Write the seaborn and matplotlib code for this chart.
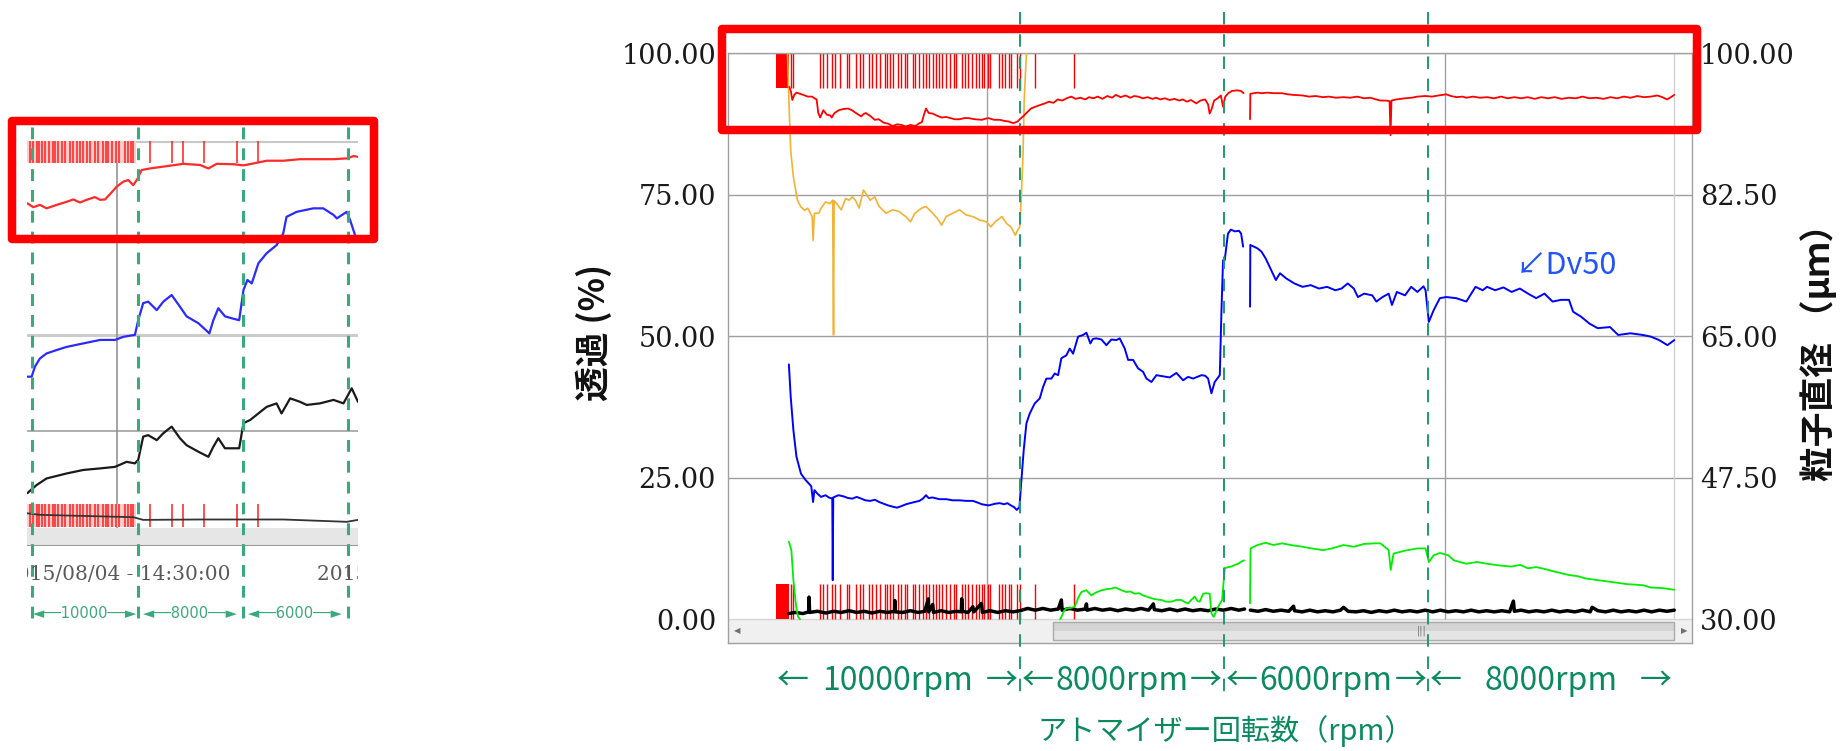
import numpy as np
import pandas as pd
import matplotlib
matplotlib.use("Agg")
import matplotlib.pyplot as plt
import matplotlib.transforms as mtransforms
from matplotlib.patches import Rectangle
import seaborn as sns

nan = np.nan

# ======================= DATA : main chart =======================
# time axis in arbitrary units (0 = left frame of chart)
red_t = [6.4, 6.55, 6.7, 6.9, 7.13, 7.5, 7.84, 8.3, 8.76, 9.0, 9.23, 9.4, 9.6, 9.93, 10.3, 10.62, 10.8,
         11.09, 11.55, 12.0, 12.49, 12.9, 13.41, 13.88, 14.1, 14.35, 14.8, 15.28, 15.7, 16.21, 16.7,
         17.14, 17.6, 18.07, 18.5, 19.0, 19.5, 19.93, 20.2, 20.39, 20.62, 20.9, 21.32, 21.8, 22.25,
         22.7, 23.18, 23.6, 24.11, 24.6, 25.04, 25.7, 26.44, 26.8, 27.14, 27.7, 28.3, 28.8, 29.23,
         29.7, 30.16, 30.39, 30.85, 31.2, 31.55, 32.0, 32.48, 33.0, 33.41, 33.9, 34.34, 34.8, 35.27,
         35.74, 36.2, 36.7, 37.2, 37.6, 38.06, 38.5, 39.0, 39.5, 40.0, 40.39, 40.9, 41.4, 41.9, 42.3,
         42.71, 43.2, 43.7, 44.2, 44.6, 45.04, 45.5, 46.0, 46.5, 47.0, 47.36, 47.8, 48.2, 48.78, 49.2,
         49.7, 50.0, 50.16, 50.35, 50.63, 51.0, 51.33, 51.56, 51.79, 52.1, 52.49, 53.0, 53.42, 53.7,
         nan,
         54.37, 54.40, 55.14, 55.6, 56.2, 56.8, 57.7, 58.3, 58.9, 59.84, 60.5, 61.2, 61.97, 62.6, 63.3,
         64.1, 64.8, 65.5, 66.25, 66.9, 67.5, 67.95, 68.5, 68.9, 69.0, 69.1, 69.6, 70.5, 71.2, 71.8,
         72.65, 73.3, 74.0, 74.8, 75.3, 75.9, 76.5, 76.9, 77.6, 78.3, 79.05, 79.8, 80.5, 81.2, 81.9,
         82.6, 83.3, 84.0, 84.7, 85.4, 86.1, 86.8, 87.6, 88.3, 89.0, 89.7, 90.4, 91.2, 91.9, 92.6,
         93.3, 94.0, 94.7, 95.4, 96.1, 96.8, 97.3, 97.8, 98.2, 98.55]
red_v = [94.0, 93.2, 91.7, 92.6, 93.0, 92.8, 92.6, 92.3, 92.3, 92.0, 91.8, 89.4, 88.6, 89.9, 89.1, 89.0, 88.6,
         89.4, 89.9, 90.1, 90.2, 89.9, 89.3, 88.8, 89.2, 89.4, 88.9, 88.2, 88.3, 87.7, 87.5,
         87.1, 87.4, 87.3, 87.0, 87.3, 87.1, 87.6, 87.8, 89.0, 90.2, 89.4, 89.3, 88.9, 88.6,
         88.7, 88.5, 88.3, 88.3, 88.5, 88.5, 88.3, 88.2, 88.4, 88.5, 88.2, 88.2, 88.0, 87.9,
         87.6, 87.9, 88.3, 89.0, 89.6, 90.2, 90.5, 90.8, 91.1, 91.4, 91.2, 91.8, 91.6, 92.0,
         92.3, 91.9, 92.1, 91.8, 92.2, 92.0, 92.3, 91.9, 92.4, 92.1, 92.6, 92.2, 92.5, 92.1, 92.4,
         92.3, 92.0, 92.2, 91.9, 92.1, 91.8, 92.0, 91.7, 91.9, 91.6, 91.8, 91.4, 91.7, 91.1, 91.6,
         91.8, 90.9, 89.3, 90.0, 91.6, 92.0, 92.5, 90.5, 92.3, 92.9, 93.3, 93.4, 93.3, 92.9,
         nan,
         88.3, 92.8, 93.0, 92.9, 93.0, 92.9, 92.9, 92.7, 92.6, 92.5, 92.3, 92.4, 92.2, 92.3, 92.1,
         92.2, 92.1, 92.3, 92.0, 92.1, 91.8, 91.6, 91.6, 91.5, 85.5, 91.6, 91.8, 92.0, 92.1, 92.3,
         92.4, 92.3, 92.5, 92.7, 92.4, 92.2, 92.3, 92.1, 92.3, 92.1, 92.2, 92.0, 92.3, 92.0, 92.2,
         92.0, 92.2, 91.9, 92.2, 92.0, 92.2, 91.9, 92.1, 92.0, 92.3, 92.0, 92.1, 91.9, 92.2, 92.0,
         92.3, 92.1, 92.4, 92.2, 92.3, 92.5, 92.2, 91.8, 92.2, 92.6]

orange_t = [6.2, 6.34, 6.53, 6.81, 7.23, 7.6, 8.0, 8.3, 8.76, 8.86, 9.0, 9.46, 9.69, 10.16, 10.62, 10.9,
            10.99, 11.05, 11.32, 11.79, 12.25, 12.6, 12.95, 13.3, 13.65, 14.11, 14.35, 14.81, 15.28,
            15.74, 16.1, 16.44, 17.14, 17.83, 18.2, 18.53, 19.0, 19.46, 20.16, 20.62, 21.32, 21.79,
            22.25, 22.72, 23.41, 24.11, 24.81, 25.51, 26.21, 26.91, 27.37, 27.83, 28.53, 29.0, 29.46,
            29.93, 30.16, 30.39, 30.53, 30.72, 30.85, 31.08]
orange_v = [100.0, 91.7, 82.8, 78.1, 74.0, 72.8, 72.2, 72.6, 71.1, 66.9, 71.7, 71.7, 72.6, 73.7, 73.4, 74.0,
            50.2, 73.9, 73.4, 72.3, 74.3, 74.0, 74.6, 73.9, 72.6, 75.8, 75.2, 74.0, 74.6,
            72.9, 72.3, 71.7, 72.3, 72.0, 71.5, 71.1, 70.2, 71.7, 72.6, 72.9, 71.7, 70.8,
            69.6, 71.1, 71.7, 72.3, 71.4, 71.1, 70.5, 70.2, 69.3, 70.2, 71.1, 69.9, 69.3,
            67.8, 68.7, 69.3, 74.0, 81.7, 91.7, 100.0]

blue_t = [6.34, 6.53, 6.81, 7.13, 7.6, 8.07, 8.67, 8.86, 9.0, 9.3, 9.69, 10.16, 10.5, 10.86, 10.91, 10.96,
          11.09, 11.5, 12.02, 12.5, 12.95, 13.4, 13.88, 14.3, 14.81, 15.3, 15.74, 16.2, 16.67, 17.1,
          17.6, 18.1, 18.53, 19.2, 19.93, 20.3, 20.62, 20.9, 21.32, 22.0, 22.72, 23.4, 24.11, 24.8,
          25.51, 26.0, 26.44, 27.14, 27.83, 28.3, 28.76, 29.1, 29.46, 29.8, 30.07, 30.35, 30.56, 30.8,
          31.08, 31.42, 31.94, 32.47, 32.81, 33.16, 33.68, 34.03, 34.38, 34.72, 35.24, 35.59, 35.94,
          36.46, 36.98, 37.33, 37.74, 38.0, 38.37, 38.89, 39.41, 39.93, 40.45, 40.8, 41.32, 41.67,
          42.19, 42.71, 43.23, 43.58, 44.1, 44.62, 45.31, 46.0, 46.7, 47.4, 47.92, 48.44, 49.31,
          49.7, 50.0, 50.35, 50.69, 51.22, 51.39, 51.56, 51.73, 52.07, 52.37, 52.8, 53.22, 53.44, 53.65,
          nan,
          54.37, 54.40, 55.14, 55.57, 56.0, 56.42, 57.06, 57.49, 58.13, 58.99, 59.84, 60.69, 61.55,
          62.40, 63.25, 63.9, 64.54, 65.18, 65.6, 66.25, 67.1, 67.53, 68.17, 68.81, 69.15, 69.66,
          70.51, 71.15, 71.8, 72.44, 72.65, 72.99, 73.5, 74.14, 74.8, 75.85, 76.9, 77.85, 78.6,
          79.05, 79.9, 80.76, 81.61, 82.47, 83.32, 84.17, 85.03, 85.88, 86.74, 87.59, 88.02, 88.87,
          89.73, 90.58, 91.86, 92.71, 93.99, 95.27, 96.13, 96.98, 97.84, 98.56]
blue_v = [45.0, 39.3, 33.4, 28.7, 25.7, 24.6, 23.5, 20.7, 22.8, 22.2, 21.6, 21.9, 21.5, 21.3, 6.9, 21.5,
          21.6, 21.9, 21.7, 21.4, 21.3, 21.6, 21.3, 21.0, 20.9, 21.1, 20.7, 20.4, 20.1, 19.9,
          19.7, 20.0, 20.3, 20.6, 20.9, 21.3, 21.9, 21.4, 21.5, 21.2, 21.2, 21.0, 21.0, 20.9,
          20.9, 20.6, 20.3, 20.1, 20.4, 20.5, 20.3, 20.5, 20.1, 19.8, 19.3, 19.8, 24.6, 29.9,
          34.6, 36.3, 38.1, 39.0, 41.0, 42.5, 42.5, 43.4, 43.1, 46.1, 46.6, 47.8, 46.9,
          49.9, 50.2, 50.6, 48.7, 49.5, 49.6, 49.4, 48.4, 49.4, 49.3, 49.6, 47.8, 45.8,
          45.8, 44.3, 43.7, 42.5, 41.9, 43.1, 42.9, 42.7, 43.5, 42.2, 42.8, 42.5, 43.1,
          43.0, 42.5, 39.9, 41.9, 43.1, 54.3, 63.4, 63.4, 68.1, 68.8, 68.5, 68.6, 68.1, 65.8,
          nan,
          55.2, 66.1, 65.5, 64.9, 63.7, 62.2, 59.9, 61.1, 60.2, 59.3, 58.7, 59.0, 58.4,
          58.7, 58.1, 58.4, 59.3, 58.4, 56.9, 57.5, 57.2, 56.1, 56.9, 57.5, 55.5, 57.8,
          57.2, 58.7, 57.8, 58.8, 58.1, 52.5, 54.6, 56.7, 56.9, 56.7, 56.1, 58.7, 58.1,
          58.7, 58.1, 58.6, 57.8, 58.4, 57.5, 56.7, 57.5, 56.1, 56.4, 56.4, 54.3, 53.4,
          52.2, 51.4, 51.6, 50.2, 50.5, 50.2, 49.9, 49.3, 48.4, 49.3]

green_t = [6.34, 6.6, 6.81, 7.1, 7.3, 7.5,
           nan,
           34.6, 34.72, 35.0, 35.24, 35.7, 36.11, 36.5, 36.81, 37.1, 37.33, 37.85, 38.3, 38.89, 39.4,
           39.93, 40.3, 40.63, 41.0, 41.49, 41.9, 42.36, 42.8, 43.23, 43.6, 44.1, 44.6, 45.14, 45.6,
           46.18, 46.7, 47.22, 47.6, 47.92, 48.3, 48.61, 48.9, 49.13, 49.48, 49.8, 50.17, 50.35,
           50.59, 51.04, 51.46, 51.74, 52.1, 52.43, 52.8, 53.13, 53.5, 53.75,
           nan,
           54.37, 54.42, 55.14, 56.0, 56.8, 57.7, 58.6, 59.84, 60.8, 61.97, 62.9, 64.1, 65.2, 66.25,
           67.4, 67.95, 68.81, 69.02, 69.32, 70.5, 71.8, 72.65, 72.99, 73.5, 74.14, 75.0, 75.6, 76.9,
           78.0, 79.05, 80.3, 81.6, 82.5, 83.3, 84.2, 85.0, 86.1, 87.6, 88.5, 89.3, 90.6, 91.9, 92.8,
           93.6, 94.5, 95.3, 96.1, 97.3, 98.56]
green_v = [13.7, 12.2, 6.9, 2.2, 0.4, 0.0,
           nan,
           0.0, 0.4, 1.5, 1.9, 2.0, 2.2, 3.9, 4.8, 5.0, 5.1, 4.2, 4.7, 5.1, 5.3,
           5.4, 5.6, 5.4, 5.1, 4.8, 4.9, 4.5, 4.6, 4.2, 4.0, 3.7, 3.5, 3.4, 3.1,
           3.1, 3.4, 3.4, 3.0, 2.8, 3.5, 4.0, 3.2, 3.1, 4.5, 4.6, 4.5, 1.0,
           0.4, 2.2, 3.4, 9.0, 9.2, 9.3, 9.6, 9.8, 10.2, 10.4,
           nan,
           2.8, 12.5, 13.1, 13.5, 13.1, 13.4, 13.1, 12.8, 12.5, 12.2, 12.5, 13.1, 12.8, 13.3,
           13.4, 13.4, 12.2, 8.7, 11.6, 12.1, 12.5, 12.5, 10.1, 11.3, 11.7, 11.3, 10.4, 9.8,
           10.1, 9.8, 9.5, 9.3, 9.6, 9.0, 9.2, 8.9, 8.4, 7.8, 7.6, 7.2, 6.9, 6.6, 6.4,
           6.2, 6.1, 6.0, 5.6, 5.5, 5.2]

black_t = [6.3, 7.0, 7.8, 8.4, 8.44, 8.5, 9.3, 10.2, 11.0, 11.8, 12.6, 13.4, 14.2, 15.0, 15.8, 16.6,
           17.35, 17.37, 17.4, 18.2, 19.0, 19.8, 20.5, 20.86, 20.9, 21.32, 21.4, 22.2, 23.0, 23.8,
           24.3, 24.34, 24.4, 25.0, 25.5, 25.6, 26.4, 26.5, 27.3, 28.1, 28.9, 29.7, 30.4, 31.2,
           32.0, 32.8, 33.6, 34.4, 34.72, 34.8, 35.6, 36.4, 37.2, 37.33, 37.4, 38.2, 39.0, 39.8,
           40.6, 41.4, 42.2, 43.0, 43.8, 44.3, 44.4, 45.2, 46.0, 46.8, 47.6, 48.4, 49.2, 50.0,
           50.8, 51.6, 52.4, 53.2, 53.8,
           nan,
           54.4, 55.2, 56.0, 56.8, 57.6, 58.4, 58.9, 59.0, 59.8, 60.6, 61.4, 62.2, 63.0, 63.8, 64.1,
           64.6, 65.4, 66.2, 67.0, 67.8, 68.6, 69.4, 70.2, 71.0, 71.8, 72.6, 73.4, 74.2, 75.0, 75.8,
           76.6, 77.4, 78.2, 79.0, 79.8, 80.6, 81.4, 81.8, 81.9, 82.6, 83.4, 84.2, 85.0, 85.8, 86.6,
           87.4, 88.2, 89.0, 89.8, 90.0, 90.6, 91.4, 92.2, 93.0, 93.8, 94.6, 95.4, 96.2, 97.0, 97.8,
           98.55]
black_v = [1.0, 1.2, 1.0, 1.3, 3.9, 1.2, 1.4, 1.1, 1.4, 1.2, 1.5, 1.2, 1.4, 1.1, 1.4, 1.2,
           1.4, 3.3, 1.3, 1.2, 1.5, 1.2, 1.4, 3.6, 1.3, 2.6, 1.2, 1.5, 1.2, 1.4,
           1.3, 3.6, 1.4, 1.2, 2.2, 1.3, 2.8, 1.2, 1.5, 1.2, 1.5, 1.3, 1.5, 1.9,
           1.6, 1.9, 1.6, 1.8, 3.4, 1.6, 1.9, 1.6, 1.8, 2.7, 1.6, 1.9, 1.6, 1.8,
           1.5, 1.8, 1.6, 1.9, 1.6, 2.7, 1.7, 1.5, 1.8, 1.5, 1.8, 1.5, 1.7, 1.5,
           1.8, 1.6, 1.9, 1.6, 1.8,
           nan,
           1.6, 1.4, 1.7, 1.4, 1.6, 1.4, 2.3, 1.5, 1.3, 1.6, 1.3, 1.5, 1.3, 1.6, 2.1,
           1.4, 1.3, 1.5, 1.2, 1.5, 1.3, 1.6, 1.3, 1.5, 1.3, 1.6, 1.3, 1.6, 1.3, 1.5,
           1.3, 1.6, 1.3, 1.5, 1.3, 1.5, 1.3, 3.2, 1.4, 1.6, 1.3, 1.5, 1.3, 1.6, 1.3,
           1.5, 1.3, 1.6, 1.3, 2.1, 1.5, 1.3, 1.6, 1.3, 1.5, 1.3, 1.6, 1.3, 1.6, 1.4,
           1.6]

# alarm / event markers (times)
alarm_block = (4.95, 6.34)
alarm_t = [6.53, 6.81, 9.55, 9.93, 10.30, 10.85, 11.18, 11.65, 12.40, 12.62, 13.32, 13.79, 14.02,
           14.72, 15.04, 15.42, 15.83, 16.30, 16.58, 16.86, 17.14, 17.70, 17.97, 18.39, 18.67,
           19.23, 19.51, 19.93, 20.30, 20.63, 20.95, 21.32, 21.70, 21.97, 22.34, 22.72, 23.09,
           23.55, 23.78, 24.34, 24.67, 25.04, 25.42, 25.83, 26.11, 26.44, 26.67, 27.04, 27.27,
           28.20, 28.53, 28.85, 29.23, 29.51, 30.06, 30.44, 31.93, 36.02]
alarm_height = 6.2

time_grid = [27.0, 74.7]
rpm_bounds = [4.9, 30.4, 51.65, 72.95, 98.5]
rpm_labels = ["10000rpm", "8000rpm", "6000rpm", "8000rpm"]
left_ticks = [0, 25, 50, 75, 100]
right_ticks = [30.0, 47.5, 65.0, 82.5, 100.0]

# ======================= DATA : small left chart =======================
sr_t = [0.1, 1.9, 3.9, 5.9, 9.0, 12.0, 14.0, 16.0, 18.0, 20.5, 22.1, 23.6, 25.1, 27.1, 29.1, 30.6,
        32.1, 33.3, 34.6, 37.1, 42.2, 47.2, 52.3, 54.8, 57.3, 62.3, 65.4, 68.4, 72.4, 77.4, 82.5,
        92.6, 96.6, 98.6, 100.0]
sr_v = [83.9, 82.9, 83.5, 82.6, 83.5, 84.3, 84.9, 84.1, 84.8, 85.5, 84.8, 84.9, 86.3, 88.2, 89.5, 89.9,
        88.6, 90.1, 92.5, 92.9, 93.5, 94.1, 93.8, 92.9, 94.1, 94.0, 93.7, 94.2, 94.9, 94.9, 95.3,
        95.3, 95.5, 96.1, 95.9]
sb_t = [0.1, 1.4, 2.4, 3.9, 5.9, 9.0, 12.0, 17.0, 22.1, 26.6, 29.1, 32.6, 33.6, 35.1, 36.6, 39.2,
        41.2, 43.7, 46.2, 48.2, 51.8, 55.1, 56.3, 57.8, 59.8, 61.8, 64.1, 65.4, 66.6, 67.9, 69.9,
        72.4, 75.4, 77.4, 78.4, 81.5, 86.5, 89.5, 92.6, 93.6, 96.6, 97.6, 99.1, 100.0]
sb_v = [39.1, 39.1, 41.7, 43.8, 45.1, 46.0, 46.8, 47.7, 48.6, 48.6, 49.4, 49.9, 53.7, 58.1, 58.5, 56.3,
        58.5, 60.2, 57.2, 54.7, 52.9, 50.3, 53.7, 56.8, 54.7, 54.2, 53.7, 61.5, 64.1, 63.2, 68.4,
        71.0, 73.1, 76.1, 80.4, 81.7, 82.6, 82.6, 80.9, 80.0, 81.7, 79.6, 75.7, 74.0]
sk_t = [0.1, 2.9, 5.9, 12.0, 17.0, 22.1, 26.6, 30.1, 32.6, 33.6, 35.1, 36.6, 39.2, 41.2, 43.7, 46.2,
        48.2, 51.8, 54.8, 56.3, 57.8, 59.8, 62.3, 64.1, 65.4, 67.4, 69.9, 72.4, 75.4, 76.9, 79.5,
        82.5, 84.5, 88.5, 92.6, 95.6, 98.1, 100.0]
sk_v = [9.0, 11.1, 12.8, 14.1, 15.0, 15.4, 15.8, 17.1, 16.7, 17.6, 23.6, 24.0, 22.7, 24.5, 26.2, 23.2,
        21.4, 19.7, 18.4, 21.0, 23.2, 20.6, 20.6, 20.6, 27.1, 27.9, 29.6, 31.3, 32.2, 29.6, 33.5,
        32.6, 31.8, 32.2, 33.1, 32.2, 36.1, 32.6]
sk2_t = [0.1, 3.9, 32.1, 35.1, 52.3, 77.4, 96.6, 100.0]
sk2_v = [3.8, 3.4, 2.8, 2.1, 2.2, 2.2, 1.6, 2.1]
s_alarm_t = [0.9, 1.9, 2.9, 3.7, 4.4, 5.4, 6.7, 7.8, 8.5, 9.5, 10.5, 11.5, 13.0, 14.0, 15.0, 16.0,
             17.0, 18.2, 19.0, 20.5, 21.5, 22.9, 23.9, 24.6, 25.6, 26.9, 27.9, 29.6, 30.6, 31.3,
             32.1, 37.2, 43.7, 47.2, 53.5, 63.5, 69.9]
s_alarm_span = (0.0, 33.0)
s_rpm_bounds = [1.5, 33.5, 65.3, 97.0]
s_rpm_labels = ["10000", "8000", "6000"]
s_time_grid = [27.2]
s_date_text = "2015/08/04 - 14:30:00"

# ======================= FIGURE =======================
sns.set_theme(style="white")
plt.rcParams["font.family"] = ["Noto Sans CJK JP", "DejaVu Sans"]
plt.rcParams["lines.scale_dashes"] = False

W, H = 1842, 751
fig = plt.figure(figsize=(W / 100, H / 100), dpi=100)
fig.patch.set_facecolor("white")


def px_axes(x0, y0, x1, y1):
    return fig.add_axes([x0 / W, 1 - y1 / H, (x1 - x0) / W, (y1 - y0) / H])


def fx(px):
    return px / W


def fy(py):
    return 1 - py / H


def draw(ax, t, v, color, lw, alpha=1.0, z=3):
    df = pd.DataFrame({"t": t, "v": v})
    df["seg"] = df["v"].isna().cumsum()
    df = df.dropna()
    sns.lineplot(data=df, x="t", y="v", units="seg", estimator=None, sort=False,
                 color=color, linewidth=lw, alpha=alpha, ax=ax, legend=False, zorder=z)


GRID = "#a0a0a0"
GREEN_TXT = "#0b8a5e"
GREEN_DASH = "#1f9a6c"

# ---------------- main chart ----------------
ax = px_axes(728, 53, 1692, 643)
ax.set_facecolor("white")

# scrollbar region
ax.add_patch(Rectangle((0, -4.2), 100.4, 4.2, fc="#f0f0f0", ec="none", zorder=1))
ax.axhline(0, color="#d6d6d6", lw=1.0, zorder=1)
ax.add_patch(Rectangle((33.9, -3.75), 64.6, 1.65, fc="#e4e4e4", ec="none", zorder=2))
ax.add_patch(Rectangle((33.9, -2.1), 64.6, 1.65, fc="#d4d4d4", ec="none", zorder=2))
ax.add_patch(Rectangle((33.9, -3.75), 64.6, 3.3, fc="none", ec="#ababab", lw=1.0, zorder=2))
ax.text(72.2, -2.05, "|||", ha="center", va="center", fontsize=7, color="#707070",
        family=["DejaVu Sans"], zorder=3)
ax.text(0.95, -2.05, "◀", ha="center", va="center", fontsize=6, color="#707070",
        family=["DejaVu Sans"], zorder=3)
ax.text(99.6, -2.05, "▶", ha="center", va="center", fontsize=6, color="#707070",
        family=["DejaVu Sans"], zorder=3)

# grid
for g in [25, 50, 75, 100]:
    ax.axhline(g, color=GRID, lw=1.0, zorder=1)
ax.vlines(time_grid, 0, 100, color=GRID, lw=1.0, zorder=1)
ax.vlines([98.55], 0, 100, color="#d0d0d0", lw=1.0, zorder=1)

# alarms
ax.fill_between(list(alarm_block), 0, alarm_height, color="#ff0000", lw=0, zorder=2)
ax.fill_between(list(alarm_block), 100 - alarm_height, 100, color="#ff0000", lw=0, zorder=2)
ax.vlines(alarm_t, 0, alarm_height, color="#ff0000", lw=1.0, zorder=2)
ax.vlines(alarm_t, 100 - alarm_height, 100, color="#ff0000", lw=1.0, zorder=2)

# series
draw(ax, black_t, black_v, "#000000", 2.5, z=3)
draw(ax, green_t, green_v, "#00ee00", 1.3, z=4)
draw(ax, orange_t, orange_v, "#f2b233", 1.2, z=4)
draw(ax, blue_t, blue_v, "#0000ff", 1.4, z=5)
draw(ax, red_t, red_v, "#ff0000", 1.3, z=5)

ax.set_xlim(0, 100.4)
ax.set_ylim(-4.2, 100)
ax.set_xlabel("")
ax.set_ylabel("")
ax.set_xticks([])
ax.set_yticks(left_ticks)
ax.set_yticklabels([f"{t:.2f}" for t in left_ticks], fontfamily="DejaVu Serif",
                   fontsize=19.5, color="#1a1a1a")
ax.tick_params(axis="y", length=0, pad=8.6)
for s in ax.spines.values():
    s.set_color(GRID)
    s.set_linewidth(1.0)

sec = ax.secondary_yaxis("right", functions=(lambda v: 30 + 0.7 * v, lambda d: (d - 30) / 0.7))
sec.set_yticks(right_ticks)
sec.set_yticklabels([f"{t:.2f}" for t in right_ticks], fontfamily="DejaVu Serif",
                    fontsize=19.5, color="#1a1a1a")
sec.tick_params(length=0, pad=5.8)
sec.spines["right"].set_visible(False)

# Dv50 note
ax.text(82.0, 62.5, "↙Dv50", ha="left", va="center", fontsize=22, color="#2156f5")

# rpm dashed separators
bt = mtransforms.blended_transform_factory(ax.transData, fig.transFigure)
for b in rpm_bounds[1:-1]:
    ax.plot([b, b], [fy(12), fy(697)], transform=bt, clip_on=False, color=GREEN_DASH,
            lw=1.4, dashes=(9, 7), zorder=6)

# rpm labels
ylab = fy(681)
for i, lab in enumerate(rpm_labels):
    a, b = rpm_bounds[i], rpm_bounds[i + 1]
    ax.text((a + b) / 2, ylab, lab, transform=bt, ha="center", va="center",
            fontsize=23, color=GREEN_TXT, clip_on=False)
    ax.text(a + 0.2, ylab, "←", transform=bt, ha="left", va="center",
            fontsize=23, color=GREEN_TXT, clip_on=False)
    ax.text(b - 0.2, ylab, "→", transform=bt, ha="right", va="center",
            fontsize=23, color=GREEN_TXT, clip_on=False)

fig.text(fx(1226), fy(731), "アトマイザー回転数（rpm）", ha="center", va="center",
         fontsize=21, color=GREEN_TXT)
fig.text(fx(594), fy(332), "透過 (%)", ha="center", va="center", rotation=90,
         fontsize=25, fontweight="bold", color="#111111")
fig.text(fx(1819), fy(344), "粒子直径 （μｍ）", ha="center", va="center", rotation=90,
         fontsize=25, fontweight="bold", color="#111111")

# ---------------- small left chart ----------------
axL = px_axes(27, 141, 358, 546)
axL.set_facecolor("none")
axL.add_patch(Rectangle((0, -4.65), 100, 4.65, fc="#e6e6e6", ec="none", zorder=1))
axL.axhline(-4.65, color="#9a9a9a", lw=1.5, zorder=2)
axL.axhline(100, color="#c8c8c8", lw=2.2, zorder=1)
axL.axhline(50, color="#cccccc", lw=2.2, zorder=1)
axL.axhline(25, color="#a8a8a8", lw=1.3, zorder=1)
axL.vlines(s_time_grid, 0, 100, color="#8c8c8c", lw=1.1, zorder=1)

axL.fill_between(list(s_alarm_span), 94.2, 100, color="#ffcccc", lw=0, zorder=1)
axL.fill_between(list(s_alarm_span), 0.3, 6.2, color="#ffcccc", lw=0, zorder=1)
axL.vlines(s_alarm_t, 94.2, 100, color="#ff2020", lw=1.3, alpha=0.85, zorder=2)
axL.vlines(s_alarm_t, 0.3, 6.2, color="#ff2020", lw=1.3, alpha=0.85, zorder=2)

draw(axL, sk2_t, sk2_v, "#333333", 1.3, z=3)
draw(axL, sk_t, sk_v, "#1a1a1a", 1.6, z=3)
draw(axL, sb_t, sb_v, "#2b2bff", 1.6, z=3)
draw(axL, sr_t, sr_v, "#ff2a2a", 1.6, z=3)

axL.set_xlim(0, 100)
axL.set_ylim(-4.65, 100)
axL.set_xlabel("")
axL.set_ylabel("")
axL.set_xticks([])
axL.set_yticks([])
for s in axL.spines.values():
    s.set_visible(False)

btL = mtransforms.blended_transform_factory(axL.transData, fig.transFigure)
for b in s_rpm_bounds:
    axL.plot([b, b], [fy(127), fy(622)], transform=btL, clip_on=False, color="#3aa97b",
             lw=2.2, dashes=(8.5, 6.5), zorder=6)
for i, lab in enumerate(s_rpm_labels):
    a, b = s_rpm_bounds[i], s_rpm_bounds[i + 1]
    axL.text((a + b) / 2, fy(613), "◄──" + lab + "──►", transform=btL, ha="center", va="center",
             fontsize=10.5, color="#3aa97b", family=["DejaVu Sans"], clip_on=False)

# date strip (clipped like the screenshot)
axD = px_axes(27, 552, 358, 596)
axD.set_axis_off()
axD.text((230 - 27) / 331, 0.5, s_date_text, transform=axD.transAxes, ha="right", va="center",
         fontsize=14.5, color="#5a5a5a", family=["DejaVu Serif"], clip_on=True)
axD.text((317 - 27) / 331, 0.5, s_date_text, transform=axD.transAxes, ha="left", va="center",
         fontsize=14.5, color="#5a5a5a", family=["DejaVu Serif"], clip_on=True)

# ---------------- red highlight boxes ----------------
for (x0, y0, x1, y1) in [(12, 121, 374, 239), (722, 29, 1697, 130)]:
    fig.add_artist(Rectangle((fx(x0), fy(y1)), fx(x1) - fx(x0), fy(y0) - fy(y1),
                             transform=fig.transFigure, fill=False, ec="#ff0000",
                             lw=6.1, joinstyle="round", zorder=20))

fig.savefig("out.png", dpi=100, facecolor="white")
